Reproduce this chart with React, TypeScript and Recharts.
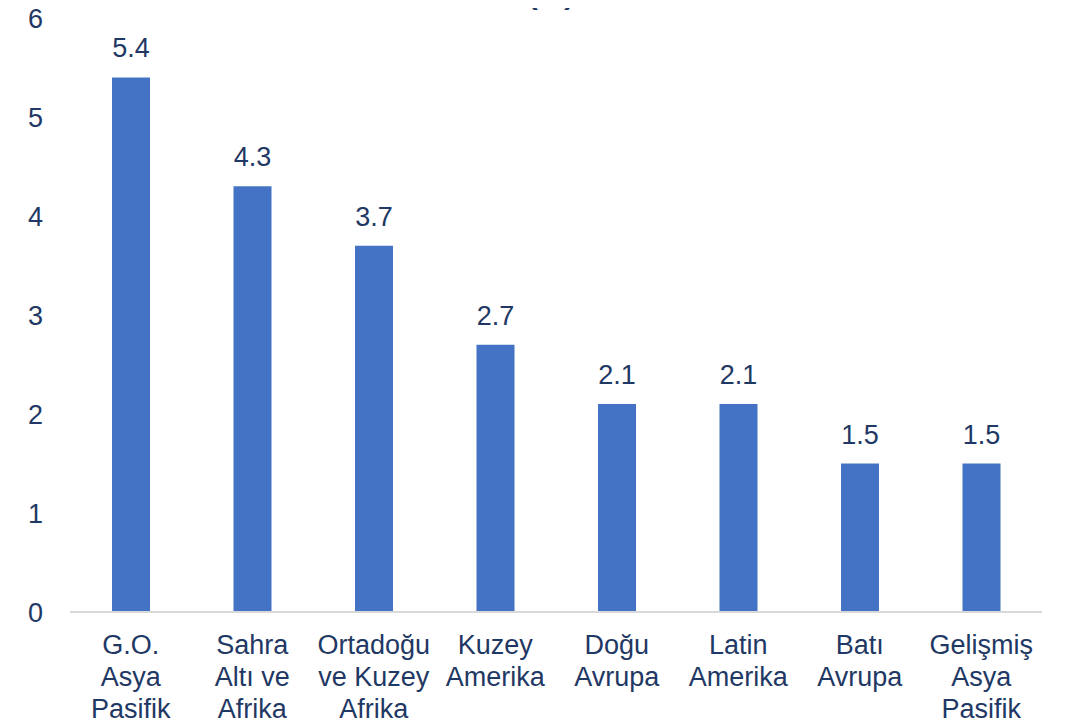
import { BarChart, Bar, XAxis, YAxis, LabelList } from 'recharts';

const categories = [
  ['G.O.', 'Asya', 'Pasifik'],
  ['Sahra', 'Altı ve', 'Afrika'],
  ['Ortadoğu', 've Kuzey', 'Afrika'],
  ['Kuzey', 'Amerika'],
  ['Doğu', 'Avrupa'],
  ['Latin', 'Amerika'],
  ['Batı', 'Avrupa'],
  ['Gelişmiş', 'Asya', 'Pasifik'],
];
const growth = [5.4, 4.3, 3.7, 2.7, 2.1, 2.1, 1.5, 1.5];
const yTicks = [0, 1, 2, 3, 4, 5, 6];

const TEXT = '#1F3864';
const FONT = '"Liberation Sans", Arial, sans-serif';

const data = categories.map((lines, i) => ({ name: lines.join(' '), value: growth[i] }));

function CategoryTick({ x, y, payload, index }: any) {
  const lines = categories[index ?? payload.index] || [payload.value];
  return (
    <text x={x} y={y + 34} textAnchor="middle" fill={TEXT} fontSize={27} fontFamily={FONT}>
      {lines.map((l: string, i: number) => (
        <tspan key={i} x={x} dy={i === 0 ? 0 : 32}>{l}</tspan>
      ))}
    </text>
  );
}

export default function App() {
  return (
    <div style={{ margin: -8, width: 1071, height: 726, background: '#fff', position: 'relative', overflow: 'hidden' }}>
      <BarChart width={1071} height={726} data={data} margin={{ top: 18, right: 29, bottom: 0, left: 0 }}>
        <XAxis
          dataKey="name"
          axisLine={{ stroke: '#D9D9D9', strokeWidth: 2 }}
          tickLine={false}
          interval={0}
          height={114}
          tick={<CategoryTick />}
        />
        <YAxis
          width={70}
          domain={[0, 6]}
          ticks={yTicks}
          axisLine={false}
          tickLine={false}
          tickMargin={21}
          tick={{ fill: TEXT, fontSize: 27, fontFamily: FONT }}
        />
        <Bar dataKey="value" fill="#4472C4" barSize={38} isAnimationActive={false}>
          <LabelList dataKey="value" position="top" offset={20} fill={TEXT} fontSize={27} fontFamily={FONT} formatter={(v: any) => Number(v).toFixed(1)} />
        </Bar>
      </BarChart>
      {/* chart title, cropped at the top edge like the source */}
      <svg width={1071} height={20} style={{ position: 'absolute', left: 0, top: 0, zIndex: 5 }}>
        <text x={551} y={4} textAnchor="middle" fill={TEXT} fontSize={30} fontWeight="bold" fontFamily={FONT}>(%)</text>
      </svg>
    </div>
  );
}
